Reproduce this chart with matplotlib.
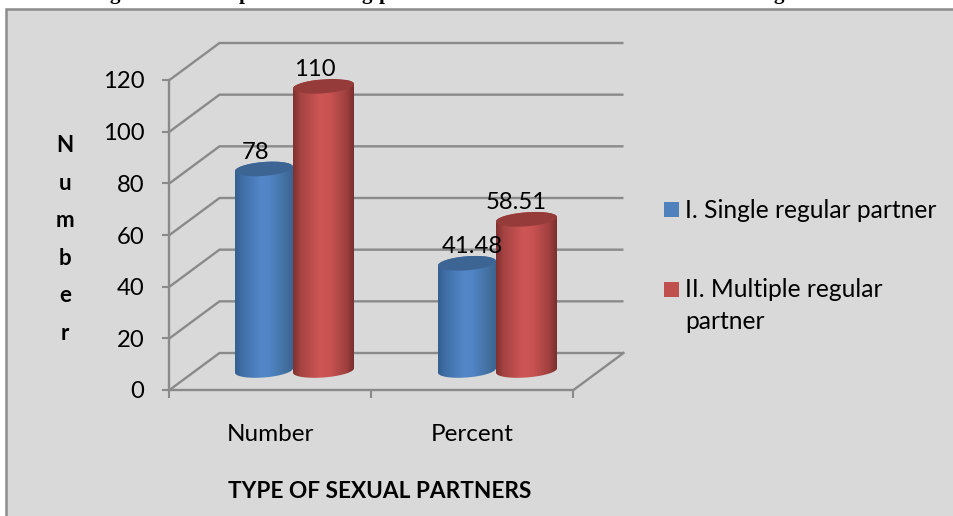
import numpy as np
import matplotlib
matplotlib.use("Agg")
import matplotlib.pyplot as plt
from matplotlib.patches import Rectangle, Polygon
from matplotlib.colors import to_rgb

categories = ["Number", "Percent"]
series_names = ["I. Single regular partner", "II. Multiple regular\npartner"]
single_values = [78, 41.48]
multiple_values = [110, 58.51]
value_labels_single = ["78", "41.48"]
value_labels_multiple = ["110", "58.51"]
y_ticks = [0, 20, 40, 60, 80, 100, 120]
axis_title_x = "TYPE OF SEXUAL PARTNERS"
axis_title_y = "Number"

W, H = 954, 516
FONT = "Lato"
GRID = "#8A8A8A"
BG = "#D9D9D9"
plt.rcParams["font.family"] = [FONT, "DejaVu Sans"]

fig = plt.figure(figsize=(W / 100, H / 100), dpi=100, facecolor="white")
fig.patches.append(Rectangle((6.5 / W, -0.1), 1.1, 0.1 + 1 - 8.5 / H, transform=fig.transFigure,
                             facecolor=BG, edgecolor="#8C8C8C", linewidth=1.8, zorder=-5))

# Cut-off caption fragments along the top edge of the image
for px, s in [(115, "g"), (245, "p"), (367, "g"), (385, "p"), (779, "g")]:
    fig.text(px / W, 1 + 1.0 / H, s, family="Liberation Serif", weight="bold", fontsize=15,
             ha="center", va="baseline", color="black")

L, R, T, B = 169.5, 573.5, 80, 390
ax = fig.add_axes([L / W, 1 - B / H, (R - L) / W, (B - T) / H])
ax.patch.set_alpha(0)
ax.set_xlim(0, 2)
ax.set_ylim(0, 120)
xu = (R - L) / 2
yu = (B - T) / 120
DX, DY = 50 / xu, 37 / yu

for v in y_ticks:
    ax.plot([0, DX, 2 + DX], [v, v + DY, v + DY], color=GRID, lw=1.7, clip_on=False, zorder=1,
            solid_capstyle="butt", solid_joinstyle="miter")
ax.plot([2, 2 + DX], [0, DY], color=GRID, lw=1.7, clip_on=False, zorder=1)

for s in ["top", "right"]:
    ax.spines[s].set_visible(False)
for s in ["left", "bottom"]:
    ax.spines[s].set_color(GRID)
    ax.spines[s].set_linewidth(1.7)

ax.set_yticks(y_ticks)
ax.set_yticklabels([str(v) for v in y_ticks], fontsize=17.2, color="black")
ax.tick_params(axis="y", length=5, width=1.5, color=GRID, pad=13)
ax.set_xticks([0, 1, 2])
ax.set_xticklabels([])
ax.tick_params(axis="x", which="major", length=6, width=1.5, color=GRID)
ax.set_xticks([0.5, 1.5], minor=True)
ax.set_xticklabels(categories, minor=True, fontsize=17.5, color="black")
ax.tick_params(axis="x", which="minor", length=0, pad=24.5)

ax.set_xlabel(axis_title_x, fontsize=16.3, weight="bold", color="black", va="center")
ax.xaxis.set_label_coords((380 - L) / (R - L), (B - 491.5) / (B - T))

for i, ch in enumerate(axis_title_y):
    ax.text((65 - L) / (R - L), (B - (145.5 + i * 37.6)) / (B - T), ch, transform=ax.transAxes,
            fontsize=16, weight="bold", ha="center", va="center", clip_on=False)


def cylinder(cx, w, value, stops, top_color, z):
    hh = 7 / yu
    tilt = 2.2 / yu
    base = DY / 2 + 0.4
    top = base + value
    t = np.linspace(np.pi, 2 * np.pi, 60)
    xb = cx + w / 2 * np.cos(t)
    yb = base + hh * np.sin(t) + tilt * np.cos(t)
    t2 = np.linspace(0, np.pi, 60)
    xt = cx + w / 2 * np.cos(t2)
    yt = top + hh * np.sin(t2) + tilt * np.cos(t2)
    body = Polygon(np.column_stack([np.r_[xb, xt], np.r_[yb, yt]]), closed=True,
                   transform=ax.transData, facecolor="none", edgecolor="none")
    ax.add_patch(body)
    body.set_clip_on(False)
    pos = np.linspace(0, 1, 200)
    arr = np.stack([np.interp(pos, [p for p, _ in stops], [to_rgb(c)[k] for _, c in stops])
                    for k in range(3)], axis=-1)[None, :, :]
    im = ax.imshow(arr, extent=[cx - w / 2, cx + w / 2, base - hh * 1.5, top + hh * 1.5],
                   aspect="auto", zorder=z, interpolation="bilinear")
    im.set_clip_path(body)
    tt = np.linspace(0, 2 * np.pi, 120)
    ax.fill(cx + w / 2 * np.cos(tt), top + hh * np.sin(tt) + tilt * np.cos(tt),
            color=top_color, zorder=z + 0.1, clip_on=False, lw=0)
    return top + hh


BLUE = [(0, "#34608F"), (0.12, "#3F6EA6"), (0.45, "#5387C9"), (0.6, "#5085C5"), (0.88, "#436F9F"), (1, "#3A6491")]
RED = [(0, "#7E302F"), (0.12, "#A44342"), (0.45, "#CE5655"), (0.6, "#C95352"), (0.88, "#9E403F"), (1, "#7A2E2D")]
TOP_B, TOP_R = "#3C6594", "#953C3A"

centers_single = [(264 - L) / xu, (467 - L) / xu]
centers_multiple = [(323.5 - L) / xu, (526.5 - L) / xu]
w_single, w_multiple = 58 / xu, 61 / xu
label_dx = {"s": [-8, 5], "m": [-9, -10]}

for j, (c, v, lab) in enumerate(zip(centers_single, single_values, value_labels_single)):
    t = cylinder(c, w_single, v, BLUE, TOP_B, 3 + j)
    ax.annotate(lab, (c, t), xytext=(label_dx["s"][j] * 0.72, 6.8), textcoords="offset points",
                ha="center", va="center", fontsize=17.2, zorder=10, annotation_clip=False)
for j, (c, v, lab) in enumerate(zip(centers_multiple, multiple_values, value_labels_multiple)):
    t = cylinder(c, w_multiple, v, RED, TOP_R, 3 + j + 0.5)
    ax.annotate(lab, (c, t), xytext=(label_dx["m"][j] * 0.72, 6.8), textcoords="offset points",
                ha="center", va="center", fontsize=17.2, zorder=10, annotation_clip=False)
ax.set_xlim(0, 2)
ax.set_ylim(0, 120)

# Legend
for y0, col in [(202, "#4F81BD"), (282, "#C0504D")]:
    fig.patches.append(Rectangle((664 / W, 1 - (y0 + 15) / H), 15 / W, 15 / H, transform=fig.transFigure,
                                 facecolor=col, edgecolor="none"))
fig.text(685 / W, 1 - 210 / H, series_names[0], fontsize=17.7, ha="left", va="center")
fig.text(685 / W, 1 - 305.5 / H, series_names[1], fontsize=17.7, ha="left", va="center", linespacing=1.5)

fig.savefig("out.png", dpi=100, facecolor="white")
